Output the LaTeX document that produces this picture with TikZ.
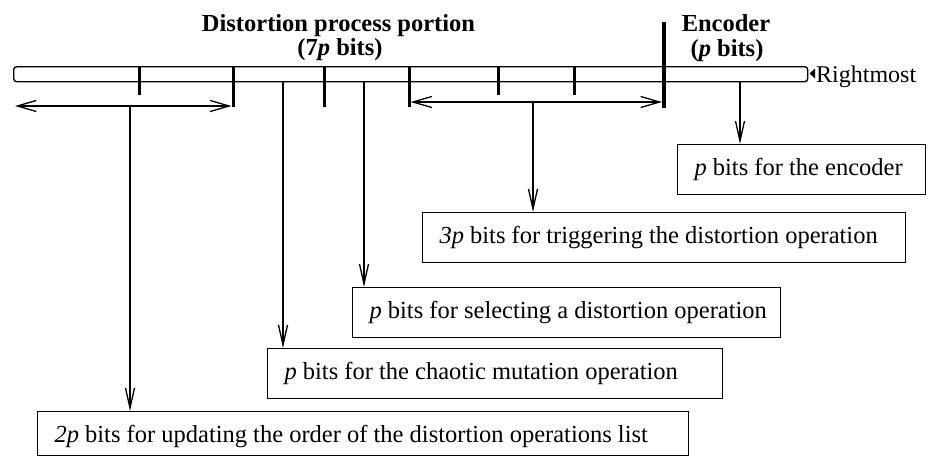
\documentclass[tikz,border=0pt]{standalone}
\usepackage{fontspec}
\setmainfont{Liberation Serif}
\usetikzlibrary{arrows.meta}
\begin{document}
\begin{tikzpicture}[x=1pt,y=-1pt,
  hdr/.style={inner sep=0pt, anchor=base, font=\fontsize{24.5}{26}\selectfont\bfseries},
  tick/.style={line width=3pt},
  bigtick/.style={line width=4.5pt},
  span/.style={line width=1.3pt,
    {Straight Barb[length=19pt,width=11pt]}-{Straight Barb[length=19pt,width=11pt]}},
  down/.style={line width=1.3pt, -{Straight Barb[length=20pt,width=9pt]}},
  bitbox/.style={draw, line width=1.1pt, anchor=north west, inner xsep=17pt,
    inner ysep=0pt, minimum height=50pt, font=\fontsize{24.5}{26}\selectfont}]
\useasboundingbox (0,0) rectangle (928,456);

% the key register
\node[draw, line width=1.4pt, rounded corners=3pt, anchor=north west,
  minimum width=794pt, minimum height=15pt, inner sep=0pt] (reg) at (13,66) {};

% field boundaries
\draw[tick] (139,66) -- (139,95);
\draw[tick] (233,66) -- (233,107);
\draw[tick] (324,66) -- (324,107);
\draw[tick] (409,66) -- (409,107);
\draw[tick] (498,66) -- (498,95);
\draw[tick] (574,66) -- (574,95);
\draw[bigtick] (664,22) -- (664,108);

% headings
\node[hdr] (dpp) at (338.5,31) {Distortion process portion};
\node[hdr] (dpb) at (340,55) {(7\textit{p} bits)};
\node[hdr] (enh) at (726,31) {Encoder};
\node[hdr] (enb) at (727,56) {(\textit{p} bits)};

% rightmost marker
\node[inner sep=0pt, anchor=base west, font=\fontsize{24}{26}\selectfont] (rm) at (816,82) {Rightmost};
\fill (809.5,73.5) -- (815,68.5) -- (815,78.5) -- cycle;

% spans
\coordinate (lA) at (15,106);
\coordinate (lB) at (231.5,106);
\draw[span] (lA) -- (lB);
\coordinate (rA) at (410.5,102);
\coordinate (rB) at (662,102);
\draw[span] (rA) -- (rB);

% description boxes
\node[bitbox] (enc) at (677,144) {\makebox[214pt][l]{\textit{p} bits for the encoder}};
\node[bitbox] (trig) at (422,212) {\makebox[449pt][l]{\textit{3p} bits for triggering the distortion operation}};
\node[bitbox] (sel) at (352,287) {\makebox[394pt][l]{\textit{p} bits for selecting a distortion operation}};
\node[bitbox] (chaos) at (267,348) {\makebox[421pt][l]{\textit{p} bits for the chaotic mutation operation}};
\node[bitbox, minimum height=44pt, text height=23pt] (upd) at (37,411) {\makebox[617pt][l]{\textit{2p} bits for updating the order of the distortion operations list}};

% pointers
\coordinate (s2) at (130,106);
\draw[down] (s2) -- (s2 |- upd.north);
\coordinate (sc) at (283,81);
\draw[down] (sc) -- (sc |- chaos.north);
\coordinate (ss) at (364,81);
\draw[down] (ss) -- (ss |- sel.north);
\coordinate (st) at (533,102);
\draw[down] (st) -- (st |- trig.north);
\coordinate (se) at (740,81);
\draw[down] (se) -- (se |- enc.north);
\end{tikzpicture}
\end{document}
